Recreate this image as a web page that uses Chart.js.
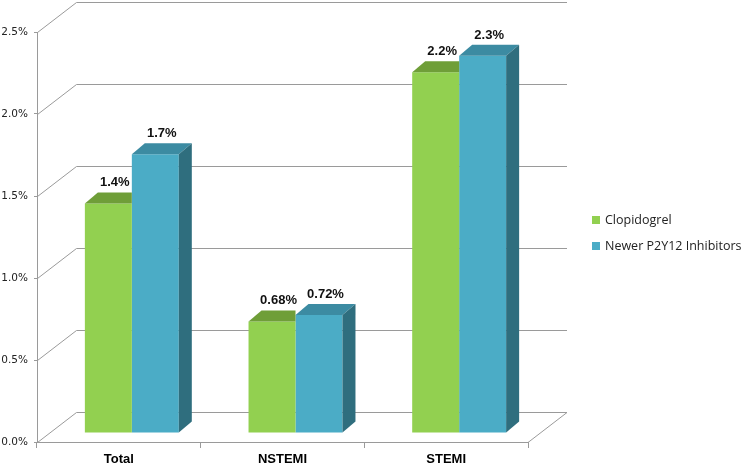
<!DOCTYPE html>
<html>
<head>
<meta charset="utf-8">
<script src="https://cdn.jsdelivr.net/npm/chart.js@4"></script>
<style>
  body { margin: 0; background: #fff; }
</style>
</head>
<body>
<canvas id="bleed-chart" width="750" height="467"></canvas>
<script>
const categories = ["Total", "NSTEMI", "STEMI"]
const seriesNames = ["Clopidogrel", "Newer P2Y12 Inhibitors"]
const clopidogrel = [1.4, 0.68, 2.2]
const newerP2Y12 = [1.7, 0.72, 2.3]
const yMax = 2.5
const yStep = 0.5

// colours: front, top, side
const fronts = ["#92d050", "#4bacc6"]
const tops = ["#6f9e38", "#3c8ba2"]
const sides = ["#5f8a2e", "#2f6e7e"]
const gridGray = "#9a9a9a"

// bars sit a little behind the front plane
const barShift = { x: 13, y: -9 }
const barDepth = { x: 13, y: -11 }
const wallDepth = { x: 39, y: -30 }

const threeD = {
    id: "threeD",
    beforeDatasetsDraw(chart) {
        const { ctx, chartArea: a, scales: { y } } = chart
        ctx.save()
        ctx.strokeStyle = gridGray
        ctx.lineWidth = 1
        y.ticks.forEach(t => {
            const py = Math.round(y.getPixelForValue(t.value)) + 0.5
            const lx = Math.round(a.left) + 0.5
            ctx.beginPath()
            ctx.moveTo(lx, py)
            ctx.lineTo(lx + wallDepth.x, py + wallDepth.y)
            ctx.lineTo(a.right + wallDepth.x, py + wallDepth.y)
            ctx.stroke()
        })
        // right edge of the floor
        const fy = Math.round(y.getPixelForValue(0)) + 0.5
        ctx.beginPath()
        ctx.moveTo(a.right, fy)
        ctx.lineTo(a.right + wallDepth.x, fy + wallDepth.y)
        ctx.stroke()
        ctx.save()
        ctx.translate(barShift.x, barShift.y)
    },
    afterDatasetsDraw(chart) {
        const { ctx } = chart
        const n = chart.data.datasets.length
        const dx = barDepth.x, dy = barDepth.y
        for (let i = 0; i < n; i++) {
            const meta = chart.getDatasetMeta(i)
            meta.data.forEach(bar => {
                const { x, y, base, width } = bar.getProps(["x", "y", "base", "width"], true)
                const x0 = x - width / 2, x1 = x + width / 2
                ctx.fillStyle = tops[i]
                ctx.beginPath()
                ctx.moveTo(x0, y)
                ctx.lineTo(x1, y)
                if (i === n - 1) {
                    ctx.lineTo(x1 + dx, y + dy)
                } else {
                    ctx.lineTo(x1, y + dy)
                }
                ctx.lineTo(x0 + dx, y + dy)
                ctx.closePath()
                ctx.fill()
                if (i === n - 1) {
                    ctx.fillStyle = sides[i]
                    ctx.beginPath()
                    ctx.moveTo(x1, y)
                    ctx.lineTo(x1 + dx, y + dy)
                    ctx.lineTo(x1 + dx, base + dy)
                    ctx.lineTo(x1, base)
                    ctx.closePath()
                    ctx.fill()
                }
            })
        }
        // value labels
        ctx.fillStyle = "#111"
        ctx.font = "bold 13px 'Liberation Sans'"
        ctx.textAlign = "center"
        ctx.textBaseline = "alphabetic"
        for (let i = 0; i < n; i++) {
            const meta = chart.getDatasetMeta(i)
            const values = chart.data.datasets[i].data
            meta.data.forEach((bar, j) => {
                const { x, y } = bar.getProps(["x", "y"], true)
                ctx.fillText(values[j] + "%", x + dx / 2, y + dy - 6)
            })
        }
        ctx.restore()
        ctx.restore()
    },
    afterDraw(chart) {
        const { ctx } = chart
        ctx.save()
        ctx.font = "12.5px 'Open Sans'"
        ctx.textAlign = "left"
        ctx.textBaseline = "middle"
        chart.data.datasets.forEach((ds, i) => {
            const cy = 220 + i * 26
            ctx.fillStyle = fronts[i]
            ctx.fillRect(592, cy - 4, 8, 8)
            ctx.fillStyle = "#222"
            ctx.fillText(ds.label, 605, cy)
        })
        ctx.restore()
    }
}

new Chart(document.getElementById("bleed-chart"), {
    type: "bar",
    data: {
        labels: categories,
        datasets: [{
            label: seriesNames[0],
            data: clopidogrel,
            backgroundColor: fronts[0]
        }, {
            label: seriesNames[1],
            data: newerP2Y12,
            backgroundColor: fronts[1]
        }]
    },
    options: {
        responsive: false,
        animation: false,
        categoryPercentage: 0.574,
        barPercentage: 1,
        layout: { padding: { left: 0, right: 222, top: 32, bottom: 0 } },
        plugins: {
            legend: { display: false },
            tooltip: { enabled: false }
        },
        scales: {
            x: {
                grid: { drawOnChartArea: false, drawTicks: true, tickLength: 6, color: gridGray, offset: true },
                border: { color: gridGray },
                ticks: { color: "#000", padding: 4, font: { family: "'Liberation Sans'", size: 13, weight: "bold" } },
                afterFit: s => { s.height = 25 }
            },
            y: {
                min: 0,
                max: yMax,
                grid: { drawOnChartArea: false, tickLength: 3, color: gridGray },
                border: { color: gridGray },
                ticks: {
                    stepSize: yStep,
                    padding: 6,
                    color: "#222",
                    font: { family: "'DejaVu Sans'", size: 10.5 },
                    callback: v => v.toFixed(1) + "%"
                },
                afterFit: s => { s.width = 37 }
            }
        }
    },
    plugins: [threeD]
})
</script>
</body>
</html>
